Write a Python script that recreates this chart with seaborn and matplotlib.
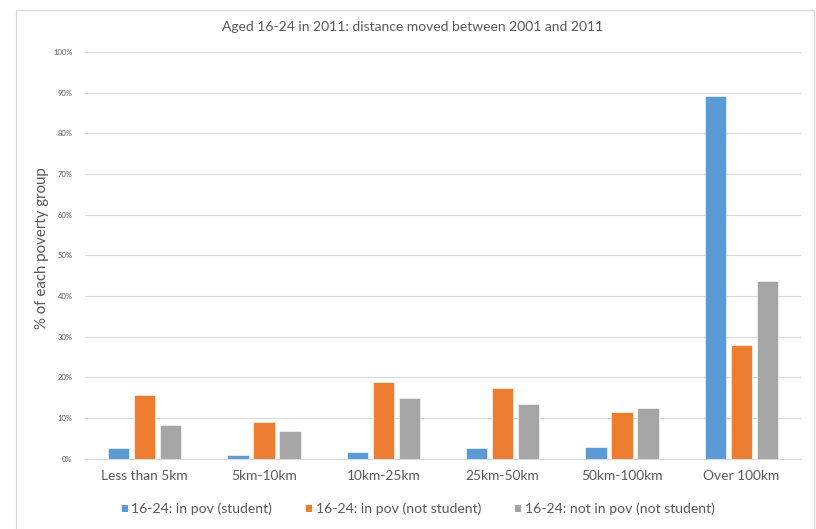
import matplotlib
matplotlib.use("Agg")
import matplotlib.pyplot as plt
from matplotlib.patches import Rectangle
import pandas as pd
import seaborn as sns

categories = ["Less than 5km", "5km-10km", "10km-25km", "25km-50km", "50km-100km", "Over 100km"]
series_names = ["16-24: in pov (student)", "16-24: in pov (not student)", "16-24: not in pov (not student)"]
in_pov_student = [2.7, 0.9, 1.7, 2.5, 2.8, 89.1]
in_pov_not_student = [15.6, 9.0, 18.8, 17.4, 11.5, 27.9]
not_in_pov_not_student = [8.2, 6.8, 15.0, 13.4, 12.5, 43.6]
y_ticks = [0, 10, 20, 30, 40, 50, 60, 70, 80, 90, 100]
colors = ["#5B9BD5", "#ED7D31", "#A5A5A5"]

rows = []
for name, vals in zip(series_names, [in_pov_student, in_pov_not_student, not_in_pov_not_student]):
    for cat, v in zip(categories, vals):
        rows.append({"distance": cat, "group": name, "pct": v})
df = pd.DataFrame(rows)

sns.set_theme(style="white")
plt.rcParams["font.family"] = ["Lato", "DejaVu Sans"]
text_col = "#595959"
grid_col = "#D9D9D9"

fig = plt.figure(figsize=(8.16, 5.29), dpi=100)
ax = fig.add_axes([85 / 816, 1 - 458.5 / 529, 716 / 816, (458.5 - 52) / 529])

sns.barplot(data=df, x="distance", y="pct", hue="group", order=categories,
            hue_order=series_names, palette=colors, width=0.654, gap=0.19,
            saturation=1, edgecolor="white", linewidth=0.4, ax=ax, legend=False)

ax.set_ylim(0, 100)
ax.set_xlim(-0.5, len(categories) - 0.5)
ax.set_yticks(y_ticks)
ax.set_yticklabels([f"{t}%" for t in y_ticks], fontsize=5.5, color=text_col)
ax.tick_params(axis="y", length=0, pad=9)
ax.tick_params(axis="x", length=0, pad=8, labelsize=9.9, labelcolor=text_col)
ax.yaxis.grid(True, color=grid_col, linewidth=0.8)
ax.set_axisbelow(True)
for s in ["top", "right", "left"]:
    ax.spines[s].set_visible(False)
ax.spines["bottom"].set_color(grid_col)
ax.spines["bottom"].set_linewidth(0.8)
ax.set_xlabel("")
ax.set_ylabel("% of each poverty group", fontsize=10.8, color=text_col)
ax.yaxis.set_label_coords((49 - 85) / 716, (458.5 - 248) / (458.5 - 52))

fig.text(413 / 816, 1 - 27.5 / 529, "Aged 16-24 in 2011: distance moved between 2001 and 2011",
         ha="center", va="center", fontsize=10, color=text_col)

handles = [Rectangle((0, 0), 1, 1, facecolor=c, edgecolor="none") for c in colors]
fig.legend(handles, series_names, loc="center", bbox_to_anchor=(418 / 816, 1 - 509 / 529),
           ncol=3, frameon=False, fontsize=10.1, labelcolor=text_col, handlelength=0.45,
           handleheight=0.45, handletextpad=0.25, columnspacing=2.4)

# chart-area frame
fig.patches.append(Rectangle((16 / 816, -0.05), 798 / 816, 1.05 - 10 / 529,
                             transform=fig.transFigure, fill=False,
                             edgecolor=grid_col, linewidth=1.0))

fig.savefig("out.png", dpi=100)
